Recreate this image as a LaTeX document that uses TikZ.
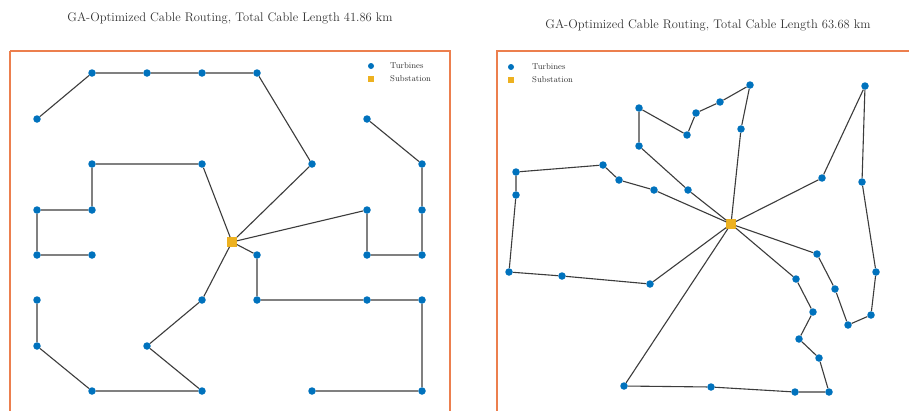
\documentclass[tikz,border=0pt]{standalone}
\usepackage{tikz}
\definecolor{turb}{HTML}{0072BD}
\definecolor{subst}{HTML}{EDB120}
\definecolor{frameor}{HTML}{EC7F4E}
\definecolor{cable}{HTML}{3C3C3C}
\tikzset{
  turbine/.style={circle,fill=turb,minimum size=7.5pt,inner sep=0pt},
  station/.style={rectangle,fill=subst,minimum size=9.5pt,inner sep=0pt},
  legturb/.style={circle,fill=turb,minimum size=6pt,inner sep=0pt},
  legsub/.style={rectangle,fill=subst,minimum size=5.5pt,inner sep=0pt},
  legtext/.style={anchor=west,inner sep=0pt,font=\fontsize{8.5}{9}\selectfont,text=black!80},
  wire/.style={draw=cable,line width=1.1pt},
  panel/.style={draw=frameor,line width=1.4pt},
  ttl/.style={font=\fontsize{12.5}{14}\selectfont,text=black!80}
}
\begin{document}
\begin{tikzpicture}[x=1pt,y=-1pt]
\useasboundingbox (0,0) rectangle (909,410);
\fill[white] (0,0) rectangle (909,410);

% panel frames (clipped by the page edge)
\draw[panel] (10,51) -- (10,420);
\draw[panel] (10,51) -- (450,51) -- (450,420);
\draw[panel] (497,420) -- (497,51) -- (920,51);

% titles
\node[ttl] (tl) at (230,18) {GA-Optimized Cable Routing, Total Cable Length 41.86 km};
\node[ttl] (tr) at (708,25) {GA-Optimized Cable Routing, Total Cable Length 63.68 km};

% ---------- left layout ----------
\node[station] (LS) at (232,242) {};
\foreach \n/\x/\y in {la/37/119, lb/92/73, lc/147/73, ld/202/73, le/257/73, lf/312/164,
  lg/367/119, lh/422/164, li/422/210, lj/422/255, lk/367/255, ll/367/210,
  lm/92/164, ln/202/164, lo/92/210, lp/37/210, lq/37/255, lr/92/255,
  ls/257/255, lt/257/300, lu/367/300, lv/422/300, lw/422/391, lx/312/391,
  ly/202/300, lz/147/346, laa/202/391, lab/92/391, lac/37/346, lad/37/300}
  \node[turbine] (\n) at (\x,\y) {};

\draw[wire] (la) -- (lb) -- (lc) -- (ld) -- (le) -- (lf) -- (LS);
\draw[wire] (lg) -- (lh) -- (li) -- (lj) -- (lk) -- (ll) -- (LS);
\draw[wire] (LS) -- (ln) -- (lm) -- (lo) -- (lp) -- (lq) -- (lr);
\draw[wire] (LS) -- (ls) -- (lt) -- (lu) -- (lv) -- (lw) -- (lx);
\draw[wire] (LS) -- (ly) -- (lz) -- (laa) -- (lab) -- (lac) -- (lad);

% left legend
\node[legturb] (ltk) at (371,66) {};
\node[legtext] (ltt) at (390,66) {Turbines};
\node[legsub] (lsk) at (371,79) {};
\node[legtext] (lst) at (390,79) {Substation};

% ---------- right layout ----------
\node[station] (RS) at (731,224) {};
\foreach \n/\x/\y in {r1/741/129, r2/750/85, r3/720/102, r4/696/113, r5/687/135, r6/639/108, r7/639/146, r8/688/190,
  r9/654/190, r10/619/180, r11/603/165, r12/516/172, r13/516/195, r14/509/272, r15/562/276, r16/650/284,
  r17/822/178, r18/865/86, r19/862/182, r20/876/272, r21/871/315, r22/848/325, r23/835/289, r24/817/254,
  r25/796/279, r26/813/312, r27/799/339, r28/819/358, r29/829/392, r30/795/392, r31/711/387, r32/624/386}
  \node[turbine] (\n) at (\x,\y) {};

\draw[wire] (RS) -- (r1) -- (r2) -- (r3) -- (r4) -- (r5) -- (r6) -- (r7) -- (r8) -- (RS);
\draw[wire] (RS) -- (r9) -- (r10) -- (r11) -- (r12) -- (r13) -- (r14) -- (r15) -- (r16) -- (RS);
\draw[wire] (RS) -- (r17) -- (r18) -- (r19) -- (r20) -- (r21) -- (r22) -- (r23) -- (r24) -- (RS);
\draw[wire] (RS) -- (r25) -- (r26) -- (r27) -- (r28) -- (r29) -- (r30) -- (r31) -- (r32) -- (RS);

% right legend
\node[legturb] (rtk) at (511,67) {};
\node[legtext] (rtt) at (532,67) {Turbines};
\node[legsub] (rsk) at (511,80) {};
\node[legtext] (rst) at (532,80) {Substation};
\end{tikzpicture}
\end{document}
